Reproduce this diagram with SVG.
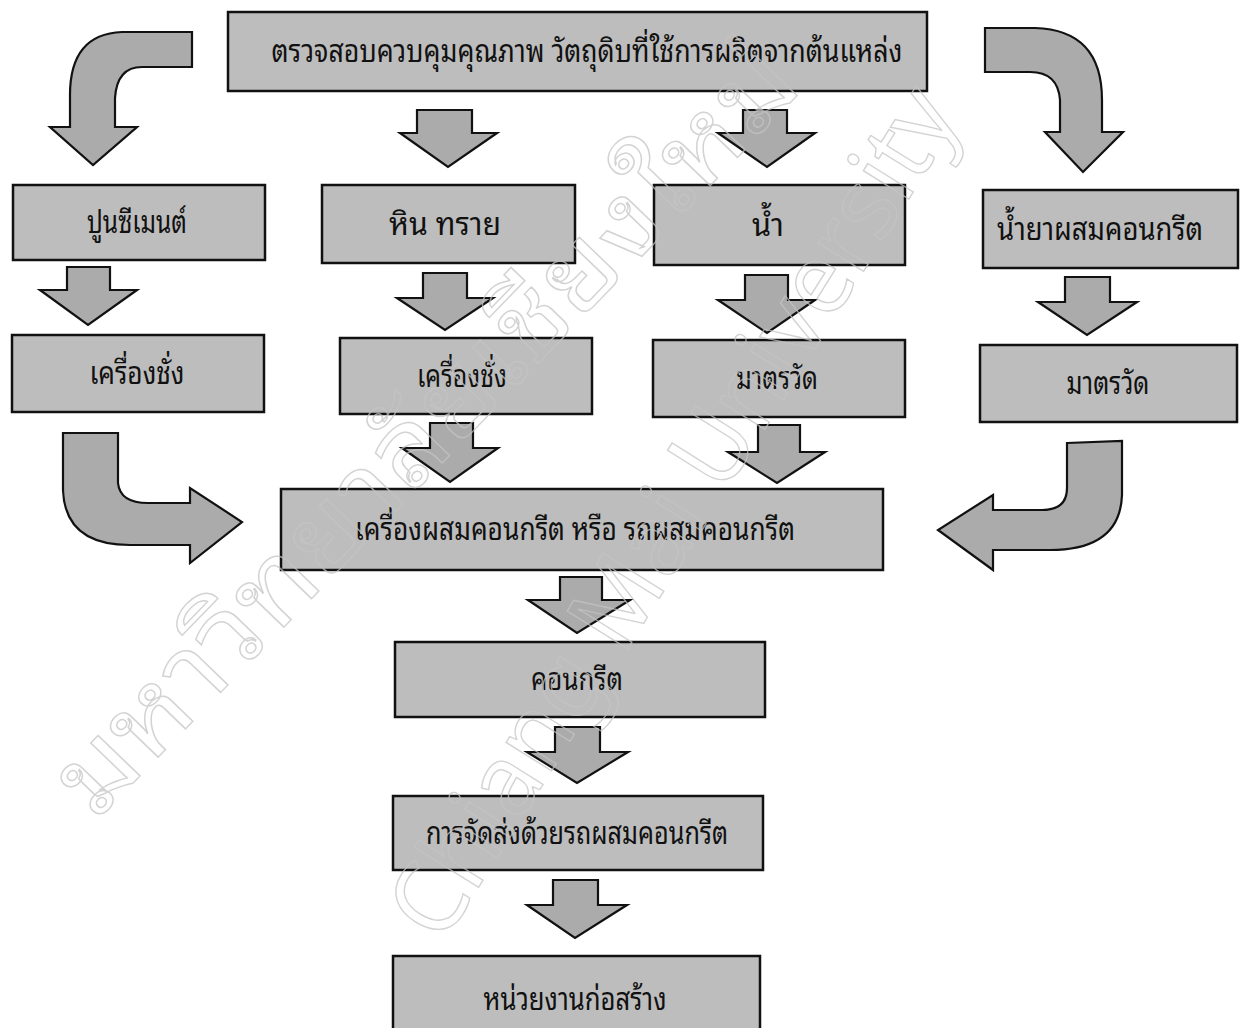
<svg xmlns="http://www.w3.org/2000/svg" width="1244" height="1028" viewBox="0 0 1244 1028">
<defs>
<style>
.bg{fill:#ffffff}
.box{fill:#bdbdbd;stroke:#111;stroke-width:2.5}
.arr{fill:#ababab;stroke:#111;stroke-width:2.2;stroke-linejoin:miter}
.t{font-family:"Noto Sans Thai Looped","Noto Serif Thai","Noto Sans Thai","Noto Sans","DejaVu Sans",sans-serif;font-size:31px;fill:#111;text-anchor:middle}
.wm{font-family:"Noto Sans Thai Looped","Noto Sans Thai","Noto Sans","DejaVu Sans",sans-serif;fill:none;stroke:#c4c4c4;stroke-width:1.4;stroke-opacity:0.75;text-anchor:middle}
</style>
</defs>
<rect class="bg" x="0" y="0" width="1244" height="1028"/>
<g id="connectors">
<path class="arr" d="M192,32 L122,32 Q70,34 70,95 L70,127 L50,127 L93,165 L137,127 L115,127 L115,98 Q117,67 142,67 L192,67 Z"/>
<path class="arr" d="M985,28 L1035,28 Q1102,30 1102,100 L1102,132 L1123,132 L1083,172 L1045,132 L1060,132 L1060,100 Q1058,72 1030,72 L985,72 Z"/>
<path class="arr" d="M63,433 L118,433 L118,483 Q120,503 148,503 L190,503 L190,488 L242,522 L190,563 L190,545 L130,545 Q65,545 63,490 Z"/>
<path class="arr" d="M1067,443 L1122,441 L1122,495 Q1120,550 1050,550 L993,550 L993,570 L938,530 L993,495 L993,510 L1042,510 Q1067,510 1067,488 Z"/>
<path class="arr" d="M417,110 L472,110 L472,133 L497,133 L448,167 L400,133 L417,133 Z"/>
<path class="arr" d="M743,110 L787,110 L787,133 L815,133 L767,167 L718,133 L743,133 Z"/>
<path class="arr" d="M67,267 L110,267 L110,290 L137,290 L88,325 L40,290 L67,290 Z"/>
<path class="arr" d="M423,273 L467,273 L467,298 L493,298 L445,330 L397,298 L423,298 Z"/>
<path class="arr" d="M745,275 L788,275 L788,300 L815,300 L767,333 L718,300 L745,300 Z"/>
<path class="arr" d="M1065,277 L1110,277 L1110,302 L1137,302 L1087,335 L1038,302 L1065,302 Z"/>
<path class="arr" d="M430,423 L473,423 L473,448 L498,448 L450,482 L402,448 L430,448 Z"/>
<path class="arr" d="M758,425 L800,425 L800,452 L825,452 L777,483 L728,452 L758,452 Z"/>
<path class="arr" d="M560,577 L602,577 L602,600 L630,600 L577,633 L528,600 L560,600 Z"/>
<path class="arr" d="M555,727 L600,727 L600,752 L628,752 L577,783 L527,752 L555,752 Z"/>
<path class="arr" d="M553,880 L598,880 L598,905 L627,905 L575,938 L527,905 L553,905 Z"/>
</g>
<g id="n-source"><rect class="box" x="228" y="12" width="699" height="79"/><text class="t" x="587" y="62" textLength="631" lengthAdjust="spacingAndGlyphs">ตรวจสอบควบคุมคุณภาพ วัตถุดิบที่ใช้การผลิตจากต้นแหล่ง</text></g>
<g id="n-cement"><rect class="box" x="13" y="185" width="252" height="75"/><text class="t" x="137" y="233" textLength="100" lengthAdjust="spacingAndGlyphs">ปูนซีเมนต์</text></g>
<g id="n-aggregate"><rect class="box" x="322" y="185" width="253" height="78"/><text class="t" x="445" y="235" textLength="112" lengthAdjust="spacingAndGlyphs">หิน ทราย</text></g>
<g id="n-water"><rect class="box" x="654" y="185" width="251" height="80"/><text class="t" x="768" y="236" textLength="32" lengthAdjust="spacingAndGlyphs">น้ำ</text></g>
<g id="n-admixture"><rect class="box" x="983" y="190" width="255" height="78"/><text class="t" x="1100" y="240" textLength="206" lengthAdjust="spacingAndGlyphs">น้ำยาผสมคอนกรีต</text></g>
<g id="n-scale1"><rect class="box" x="12" y="335" width="252" height="77"/><text class="t" x="137" y="384" textLength="95" lengthAdjust="spacingAndGlyphs">เครื่องชั่ง</text></g>
<g id="n-scale2"><rect class="box" x="340" y="338" width="252" height="76"/><text class="t" x="462" y="387" textLength="90" lengthAdjust="spacingAndGlyphs">เครื่องชั่ง</text></g>
<g id="n-meter1"><rect class="box" x="653" y="340" width="252" height="77"/><text class="t" x="777" y="389" textLength="82" lengthAdjust="spacingAndGlyphs">มาตรวัด</text></g>
<g id="n-meter2"><rect class="box" x="980" y="345" width="257" height="77"/><text class="t" x="1108" y="394" textLength="83" lengthAdjust="spacingAndGlyphs">มาตรวัด</text></g>
<g id="n-mixer"><rect class="box" x="281" y="489" width="602" height="81"/><text class="t" x="575" y="540" textLength="440" lengthAdjust="spacingAndGlyphs">เครื่องผสมคอนกรีต หรือ รถผสมคอนกรีต</text></g>
<g id="n-concrete"><rect class="box" x="395" y="642" width="370" height="75"/><text class="t" x="577" y="690" textLength="92" lengthAdjust="spacingAndGlyphs">คอนกรีต</text></g>
<g id="n-delivery"><rect class="box" x="393" y="796" width="370" height="74"/><text class="t" x="577" y="844" textLength="302" lengthAdjust="spacingAndGlyphs">การจัดส่งด้วยรถผสมคอนกรีต</text></g>
<g id="n-site"><rect class="box" x="393" y="956" width="367" height="80"/><text class="t" x="575" y="1010" textLength="183" lengthAdjust="spacingAndGlyphs">หน่วยงานก่อสร้าง</text></g>
<g id="watermark">
<text class="wm" font-size="105" transform="translate(450,455) rotate(-46)" textLength="1020" lengthAdjust="spacingAndGlyphs">มหาวิทยาลัยเชียงใหม่</text>
<text class="wm" font-size="100" transform="translate(702,530) rotate(-58)" textLength="980" lengthAdjust="spacingAndGlyphs">Chiang Mai University</text>
</g>
</svg>
